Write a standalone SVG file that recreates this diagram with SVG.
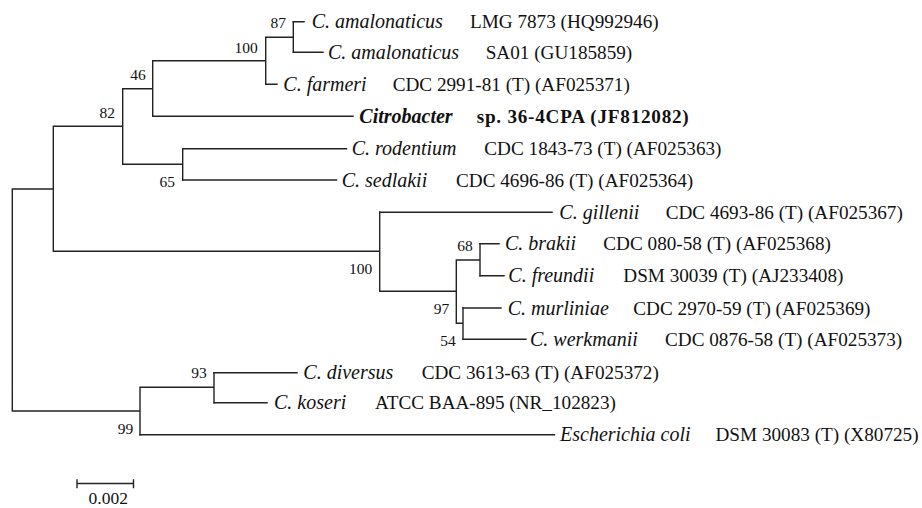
<svg xmlns="http://www.w3.org/2000/svg" width="922" height="508" viewBox="0 0 922 508">
<style>
.br{fill:none;stroke:#222;stroke-width:1.4;stroke-linecap:square}
.t{font-family:'Liberation Serif','Times New Roman',Tinos,'DejaVu Serif','Noto Serif',serif;fill:#111}
.sp{font-size:20px;font-style:italic}
.st{font-size:19.2px}
.bs{font-size:15.5px;text-anchor:end}
.bd{font-weight:bold}
</style>
<rect width="922" height="508" fill="#fff"/>
<g id="connectors">
<path class="br" d="M12.3,189V411 M12.3,189H53.3 M53.3,126.3V251.3 M53.3,126.3H122.7 M122.7,88.7V164.3 M122.7,88.7H152.7 M152.7,60.7V116.3 M152.7,60.7H265.7 M265.7,37.3V84.3 M265.7,37.3H293.3 M293.3,21.7V52.3 M122.7,164.3H182.7 M182.7,148.7V180 M53.3,251.3H379.7 M379.7,212.3V291.3 M379.7,291.3H456.3 M456.3,260V323.3 M456.3,260H480 M480,243.7V275.7 M456.3,323.3H463 M463,308V339.3 M12.3,411H140 M140,387.3V434.7 M140,387.3H214 M214,372.7V402.7"/>
<path class="br" d="M293.3,21.7H304 M293.3,52.3H323 M265.7,84.3H277 M152.7,116.3H353 M182.7,148.7H346.5 M182.7,180H336.5 M379.7,212.3H552 M480,243.7H499 M480,275.7H504 M463,308H501 M463,339.3H526 M214,372.7H297 M214,402.7H267 M140,434.7H554.5"/>
<path class="br" d="M77,483.5H133.5 M77,480V487.5 M133.5,480V487.5"/>
</g>
<g class="t">
<g id="leaf-amalonaticus-lmg"><text class="t sp" x="311.7" y="28.2">C. amalonaticus</text><text class="t st" x="470" y="28.2">LMG 7873 (HQ992946)</text></g>
<g id="leaf-amalonaticus-sa01"><text class="t sp" x="328" y="58.8">C. amalonaticus</text><text class="t st" x="485.7" y="58.8">SA01 (GU185859)</text></g>
<g id="leaf-farmeri"><text class="t sp" x="283.3" y="90.8">C. farmeri</text><text class="t st" x="392.7" y="90.8">CDC 2991-81 (T) (AF025371)</text></g>
<g id="leaf-citrobacter"><text class="t sp bd" x="359.3" y="122.8" font-size="19.4">Citrobacter</text><text class="t st bd" x="476.7" y="122.8" letter-spacing="0.75">sp. 36-4CPA (JF812082)</text></g>
<g id="leaf-rodentium"><text class="t sp" x="351.7" y="155.2">C. rodentium</text><text class="t st" x="484.3" y="155.2">CDC 1843-73 (T) (AF025363)</text></g>
<g id="leaf-sedlakii"><text class="t sp" x="341.7" y="186.5">C. sedlakii</text><text class="t st" x="456" y="186.5">CDC 4696-86 (T) (AF025364)</text></g>
<g id="leaf-gillenii"><text class="t sp" x="559.3" y="218.8">C. gillenii</text><text class="t st" x="665.7" y="218.8">CDC 4693-86 (T) (AF025367)</text></g>
<g id="leaf-brakii"><text class="t sp" x="505" y="250.2">C. brakii</text><text class="t st" x="603.3" y="250.2">CDC 080-58 (T) (AF025368)</text></g>
<g id="leaf-freundii"><text class="t sp" x="508.3" y="282.2">C. freundii</text><text class="t st" x="623.3" y="282.2">DSM 30039 (T) (AJ233408)</text></g>
<g id="leaf-murliniae"><text class="t sp" x="507.7" y="314.5">C. murliniae</text><text class="t st" x="633.3" y="314.5">CDC 2970-59 (T) (AF025369)</text></g>
<g id="leaf-werkmanii"><text class="t sp" x="530" y="345.8">C. werkmanii</text><text class="t st" x="665" y="345.8">CDC 0876-58 (T) (AF025373)</text></g>
<g id="leaf-diversus"><text class="t sp" x="303.3" y="379.2">C. diversus</text><text class="t st" x="421.7" y="379.2">CDC 3613-63 (T) (AF025372)</text></g>
<g id="leaf-koseri"><text class="t sp" x="274" y="409.2">C. koseri</text><text class="t st" x="375" y="409.2">ATCC BAA-895 (NR_102823)</text></g>
<g id="leaf-ecoli"><text class="t sp" x="560" y="441.2">Escherichia coli</text><text class="t st" x="715.5" y="441.2">DSM 30083 (T) (X80725)</text></g>
<g id="bootstrap">
<text class="t bs" x="286" y="28.4">87</text>
<text class="t bs" x="257.7" y="52.7">100</text>
<text class="t bs" x="145.7" y="80.4">46</text>
<text class="t bs" x="115" y="118.4">82</text>
<text class="t bs" x="175" y="187.4">65</text>
<text class="t bs" x="372.3" y="274.2">100</text>
<text class="t bs" x="472.7" y="251.4">68</text>
<text class="t bs" x="449.3" y="314">97</text>
<text class="t bs" x="455.7" y="345.6">54</text>
<text class="t bs" x="206.7" y="378.2">93</text>
<text class="t bs" x="133.3" y="434">99</text>
</g>
<g id="scale"><text class="t" x="108.3" y="503.5" font-size="17.5" text-anchor="middle">0.002</text></g>
</g>
</svg>
